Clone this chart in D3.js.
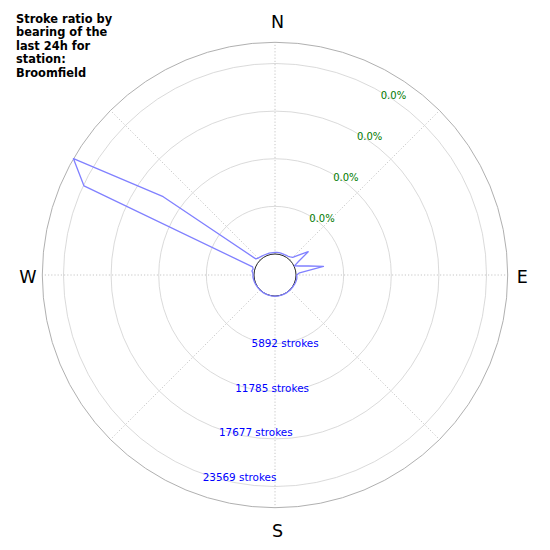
<!DOCTYPE html>
<html>
<head>
<meta charset="utf-8">
<script src="https://cdn.jsdelivr.net/npm/d3@7"></script>
<style>
  body { margin: 0; background: #fff; }
  text { font-family: "DejaVu Sans", sans-serif; }
</style>
</head>
<body>
<div id="chart"></div>
<script>
// bearings (deg) and stroke counts
const bearings = d3.range(0, 360, 5);
const strokes = [
  190, 200, 200, 190, 190, 180, 200, 230, 330, 500, 1210, 2420,
  790, 60, 660, 1710, 3490, 450, 90, 120, 140, 120, 100, 80,
  60, 50, 40, 30, 30, 20, 20, 20, 20, 20, 20, 30,
  30, 20, 20, 20, 20, 20, 20, 20, 20, 30, 30, 40,
  50, 60, 80, 100, 120, 150, 120, 160, 300, 200, 350, 23470,
  26188, 14290, 500, 350, 300, 250, 220, 200, 190, 190, 190, 190
];
const strokeTicks = [5892, 11785, 17677, 23569];
const ratioLabels = ["0.0%", "0.0%", "0.0%", "0.0%"];
const compass = ["N", "E", "S", "W"];
const compassAngles = [0, 90, 180, 270];
const titleLines = ["Stroke ratio by", "bearing of the", "last 24h for", "station:", "Broomfield"];

const width = 550, height = 550;
const cx = 275, cy = 275;
const hole = 21, outer = 232.7;

const svg = d3.select("#chart").append("svg")
  .attr("width", width)
  .attr("height", height);

const g = svg.append("g").attr("transform", "translate(" + cx + "," + cy + ")");

const rScale = d3.scaleLinear().domain([0, d3.max(strokes)]).range([hole, outer]);
const rad = d => d * Math.PI / 180;
// polar -> xy, bearing clockwise from north
const px = (a, r) => r * Math.sin(rad(a));
const py = (a, r) => -r * Math.cos(rad(a));

// grid circles
g.selectAll(".ring")
  .data(strokeTicks)
  .enter().append("circle")
  .attr("class", "ring")
  .attr("r", d => rScale(d))
  .attr("fill", "none")
  .attr("stroke", "#d0d0d0")
  .attr("stroke-width", 0.8);

// radial dotted lines every 45 deg
g.selectAll(".spoke")
  .data(d3.range(0, 360, 45))
  .enter().append("line")
  .attr("x1", d => px(d, hole))
  .attr("y1", d => py(d, hole))
  .attr("x2", d => px(d, outer))
  .attr("y2", d => py(d, outer))
  .attr("stroke", "#b8b8b8")
  .attr("stroke-width", 0.8)
  .attr("stroke-dasharray", "1.2,2");

// outer spine
g.append("circle")
  .attr("r", outer)
  .attr("fill", "none")
  .attr("stroke", "#b0b0b0")
  .attr("stroke-width", 1);

// inner spine (hole)
g.append("circle")
  .attr("r", hole)
  .attr("fill", "none")
  .attr("stroke", "#222")
  .attr("stroke-width", 1);

// stroke line
const line = d3.lineRadial()
  .angle((d, i) => rad(bearings[i]))
  .radius(d => rScale(d))
  .curve(d3.curveLinearClosed);

g.append("path")
  .datum(strokes)
  .attr("d", line)
  .attr("fill", "none")
  .attr("stroke", "#8080ff")
  .attr("stroke-width", 1.3)
  .attr("stroke-linejoin", "round");

// ratio labels (green) at bearing 30
g.selectAll(".ratio")
  .data(strokeTicks)
  .enter().append("text")
  .attr("x", d => px(30, rScale(d)))
  .attr("y", d => py(30, rScale(d)) + 6.8)
  .attr("font-size", 10)
  .attr("fill", "#007a00")
  .text((d, i) => ratioLabels[i]);

// stroke count labels (blue) at bearing 200
g.selectAll(".count")
  .data(strokeTicks)
  .enter().append("text")
  .attr("x", d => px(200, rScale(d)))
  .attr("y", d => py(200, rScale(d)) + 7.4)
  .attr("font-size", 10.4)
  .attr("fill", "#0000ff")
  .text(d => d + " strokes");

// compass labels
g.selectAll(".dir")
  .data(compass)
  .enter().append("text")
  .attr("x", (d, i) => px(compassAngles[i], i % 2 ? outer + 14.5 : outer + 22) + (i % 2 ? 0 : 2.5))
  .attr("y", (d, i) => py(compassAngles[i], i % 2 ? outer + 14.5 : outer + 22) + 7.5)
  .attr("text-anchor", "middle")
  .attr("font-size", 17.5)
  .attr("fill", "#000")
  .text(d => d);

// title
svg.append("text")
  .attr("x", 16)
  .attr("y", 23)
  .attr("font-size", 11.4)
  .attr("font-weight", "bold")
  .attr("fill", "#000")
  .selectAll("tspan")
  .data(titleLines)
  .enter().append("tspan")
  .attr("x", 16)
  .attr("dy", (d, i) => i ? 13.4 : 0)
  .text(d => d);
</script>
</body>
</html>
